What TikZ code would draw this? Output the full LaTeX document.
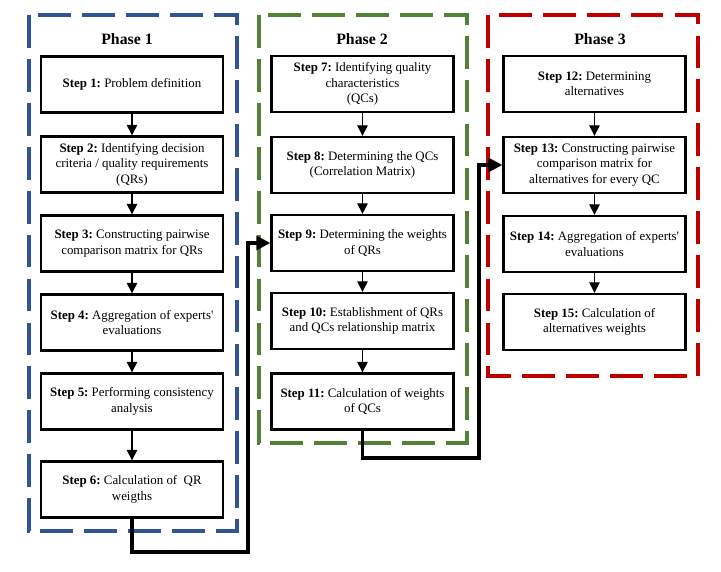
\documentclass[tikz,border=0pt]{standalone}
\usepackage{fontspec}
\setmainfont{Liberation Serif}
\usepackage{tikz}
\usetikzlibrary{arrows.meta}
\frenchspacing

\definecolor{phaseblue}{RGB}{47,85,151}
\definecolor{phasegreen}{RGB}{83,129,53}
\definecolor{phasered}{RGB}{192,0,0}

\begin{document}
\begin{tikzpicture}[x=0.03cm, y=-0.03cm,
  stepbox/.style={draw, line width=2pt, minimum width=5.46cm, minimum height=1.68cm,
    align=center, inner sep=0pt, font=\fontsize{11}{13.2}\selectfont},
  phasetitle/.style={font=\fontsize{13.5}{16}\selectfont\bfseries},
  phaseframe/.style={line width=2.6pt, dash pattern=on 28pt off 9.5pt},
  flow/.style={line width=1.1pt, -{Triangle[width=9pt, length=9pt]}},
  bigflow/.style={line width=2.6pt, -{Triangle[width=12pt, length=12pt]}}]
\useasboundingbox (0,0) rectangle (721,572);

% Phase frames
\draw[phaseframe, phaseblue] (29,15) rectangle (237,531);
\draw[phaseframe, phasegreen] (259,15) rectangle (467,443);
\draw[phaseframe, phasered] (488,15) rectangle (698,376);

% Phase titles
\node[phasetitle] (t1) at (127,39) {Phase 1};
\node[phasetitle] (t2) at (362,39) {Phase 2};
\node[phasetitle] (t3) at (600,39) {Phase 3};

% Phase 1
\node[stepbox] (s1) at (132,84.5) {\textbf{Step 1:} Problem definition};
\node[stepbox] (s2) at (132,164.5) {\textbf{Step 2:} Identifying decision\\ criteria / quality requirements\\ (QRs)};
\node[stepbox] (s3) at (132,243.5) {\textbf{Step 3:} Constructing pairwise\\ comparison matrix for QRs};
\node[stepbox] (s4) at (132,322.5) {\textbf{Step 4:} Aggregation of experts\textquotesingle\\ evaluations};
\node[stepbox] (s5) at (132,401.5) {\textbf{Step 5:} Performing consistency\\ analysis};
\node[stepbox] (s6) at (132,489.5) {\textbf{Step 6:} Calculation of\ \ QR\\ weigths};

% Phase 2
\node[stepbox] (s7) at (362.5,84) {\textbf{Step 7:} Identifying quality\\ characteristics\\ (QCs)};
\node[stepbox] (s8) at (362.5,165) {\textbf{Step 8:} Determining the QCs\\ (Correlation Matrix)};
\node[stepbox] (s9) at (362.5,243) {\textbf{Step 9:} Determining the weights\\ of QRs};
\node[stepbox] (s10) at (362.5,321) {\textbf{Step 10:} Establishment of QRs\\ and QCs relationship matrix};
\node[stepbox] (s11) at (362.5,401.5) {\textbf{Step 11:} Calculation of weights\\ of QCs};

% Phase 3
\node[stepbox] (s12) at (594.5,84) {\textbf{Step 12:} Determining\\ alternatives};
\node[stepbox] (s13) at (594.5,165) {\textbf{Step 13:} Constructing pairwise\\ comparison matrix for\\ alternatives for every QC};
\node[stepbox] (s14) at (594.5,244) {\textbf{Step 14:} Aggregation of experts\textquotesingle\\ evaluations};
\node[stepbox] (s15) at (594.5,322) {\textbf{Step 15:} Calculation of\\ alternatives weights};

% Arrows inside phases
\draw[flow] (s1.south) -- (s2.north);
\draw[flow] (s2.south) -- (s3.north);
\draw[flow] (s3.south) -- (s4.north);
\draw[flow] (s4.south) -- (s5.north);
\draw[flow] (s5.south) -- (s6.north);
\draw[flow] (s7.south) -- (s8.north);
\draw[flow] (s8.south) -- (s9.north);
\draw[flow] (s9.south) -- (s10.north);
\draw[flow] (s10.south) -- (s11.north);
\draw[flow] (s12.south) -- (s13.north);
\draw[flow] (s13.south) -- (s14.north);
\draw[flow] (s14.south) -- (s15.north);

% Links between phases
\coordinate (c1) at (248,552);
\coordinate (c2) at (479,458);
\draw[bigflow] (s6.south) |- (c1) |- (s9.west);
\draw[bigflow] (s11.south) |- (c2) |- (s13.west);
\end{tikzpicture}
\end{document}
